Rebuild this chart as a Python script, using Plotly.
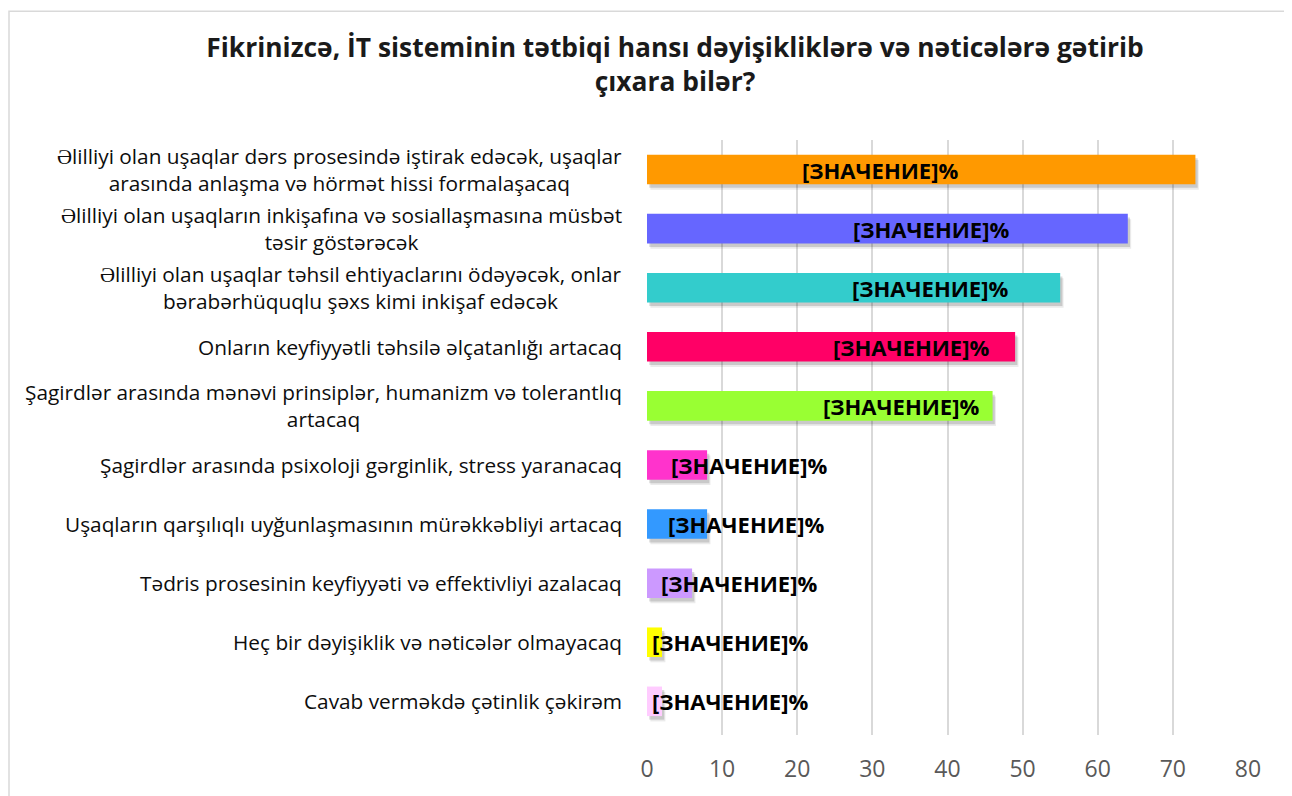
import plotly.graph_objects as go

categories = [
    "Əlilliyi olan uşaqlar dərs prosesində iştirak edəcək, uşaqlar<br>arasında anlaşma və hörmət hissi formalaşacaq",
    "Əlilliyi olan uşaqların inkişafına və sosiallaşmasına müsbət<br>təsir göstərəcək",
    "Əlilliyi olan uşaqlar təhsil ehtiyaclarını ödəyəcək, onlar<br>bərabərhüquqlu şəxs kimi inkişaf edəcək",
    "Onların keyfiyyətli təhsilə əlçatanlığı artacaq",
    "Şagirdlər arasında mənəvi prinsiplər, humanizm və tolerantlıq<br>artacaq",
    "Şagirdlər arasında psixoloji gərginlik, stress yaranacaq",
    "Uşaqların qarşılıqlı uyğunlaşmasının mürəkkəbliyi artacaq",
    "Tədris prosesinin keyfiyyəti və effektivliyi azalacaq",
    "Heç bir dəyişiklik və nəticələr olmayacaq",
    "Cavab verməkdə çətinlik çəkirəm",
]
values = [73, 64, 55, 49, 46, 8, 8, 6, 2, 2]
colors = ["#FF9900", "#6666FF", "#33CCCC", "#FF0066", "#99FF33",
          "#FF33CC", "#3399FF", "#CC99FF", "#FFFF00", "#FFCCFF"]
label_text = "[ЗНАЧЕНИЕ]%"
# left edge of each data label, in axis units (manual placement as in source)
label_left = [20.3, 27.2, 27.0, 24.5, 23.2, 2.9, 2.5, 1.6, 0.4, 0.4]
x_ticks = [0, 10, 20, 30, 40, 50, 60, 70, 80]
title_text = "Fikrinizcə, İT sisteminin tətbiqi hansı dəyişikliklərə və nəticələrə gətirib<br>çıxara bilər?"

FONT = "Open Sans"
W, H = 1284, 788          # page body has an 8px margin
L, R, T, B = 639, 44, 132, 46
pw, ph = W - L - R, H - T - B

fig = go.Figure()
# soft shadow layers
for off, alpha, base in [(0.09, 0.08, 0.45), (0.06, 0.14, 0.3)]:
    fig.add_trace(go.Bar(
        y=categories, x=values, base=base, orientation="h",
        width=0.5, offset=-0.25 + off,
        marker=dict(color=f"rgba(0,0,0,{alpha})", line=dict(width=0)),
        hoverinfo="skip", showlegend=False,
    ))
fig.add_trace(go.Bar(
    y=categories, x=values, orientation="h", width=0.5, offset=-0.25,
    marker=dict(color=colors, line=dict(width=0)),
    showlegend=False,
))

for cat, lx in zip(categories, label_left):
    fig.add_annotation(
        x=lx, y=cat, xref="x", yref="y", text=label_text, showarrow=False,
        xanchor="left", yanchor="middle",
        font=dict(family=FONT, size=22, color="#000000", weight="bold"),
    )
    fig.add_annotation(
        x=0, y=cat, xref="paper", yref="y", text=cat, showarrow=False,
        xanchor="right", yanchor="middle", align="center", xshift=-23,
        font=dict(family=FONT, size=20.8, color="#0d0d0d"),
    )

# outer chart border
fig.add_shape(type="rect", xref="paper", yref="paper",
              x0=(1 - L) / pw, x1=(1277 - L) / pw,
              y0=(H - B - 830) / ph, y1=(H - B) / ph,
              line=dict(color="#d9d9d9", width=1.5), fillcolor="rgba(0,0,0,0)", layer="below")

fig.update_layout(
    width=W, height=H,
    margin=dict(l=L, r=R, t=T, b=B),
    barmode="overlay",
    plot_bgcolor="white", paper_bgcolor="white",
    title=dict(text=title_text, x=667 / W, xanchor="center", y=1 - 49 / H, yanchor="middle",
               font=dict(family=FONT, size=26.4, color="#1a1a1a", weight="bold")),
    xaxis=dict(range=[0, 80], tickvals=x_ticks, showgrid=True, gridcolor="#d9d9d9", gridwidth=1.5,
               zeroline=False, showline=False, ticks="", ticklabelstandoff=18,
               tickfont=dict(family=FONT, size=23, color="#595959")),
    yaxis=dict(range=[9.57, -0.5], showticklabels=False, showgrid=False,
               zeroline=False, showline=False, ticks=""),
)
fig.write_html("out.html")
